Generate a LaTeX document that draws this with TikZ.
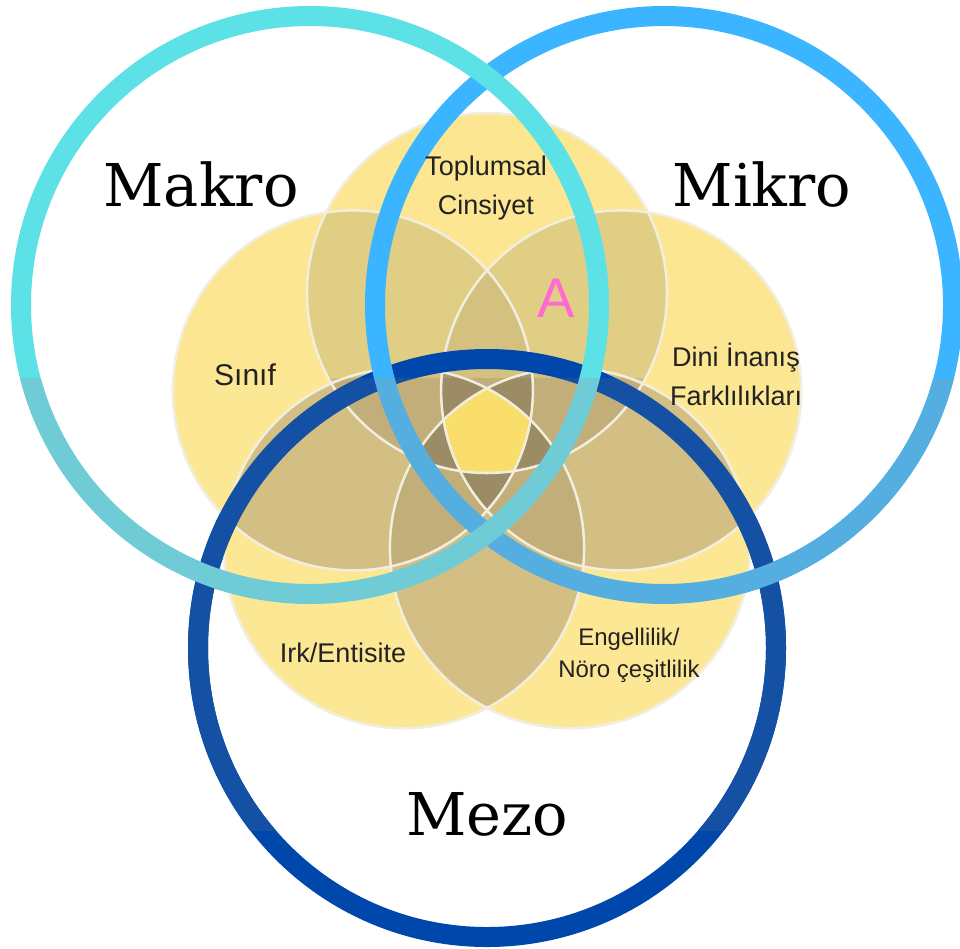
\documentclass[tikz,border=0pt]{standalone}
\usepackage{fontspec}
\setmainfont{DejaVu Serif}
\newfontfamily\labfont{Liberation Sans}
% outside band colours
\definecolor{oA}{HTML}{FCE691}
\definecolor{oB}{HTML}{E0CE85}
\definecolor{oC}{HTML}{D4C17F}
\definecolor{oD}{HTML}{A8976C}
\definecolor{oE}{HTML}{F9DE6C}
\definecolor{oMa}{HTML}{5CE1E6}
\definecolor{oMi}{HTML}{3BB5FF}
\definecolor{oMe}{HTML}{0047AB}
% band colours
\definecolor{bA}{HTML}{FCE794}
\definecolor{bB}{HTML}{D3BF84}
\definecolor{bC}{HTML}{C2AE78}
\definecolor{bD}{HTML}{9C8C66}
\definecolor{bE}{HTML}{F9DE6C}
\definecolor{bMa}{HTML}{6FCBD5}
\definecolor{bMi}{HTML}{55AEE0}
\definecolor{bMe}{HTML}{1450A3}
\definecolor{petalline}{HTML}{F2EEDF}
\definecolor{labtext}{HTML}{222222}
\definecolor{pinkA}{HTML}{FF6AD0}
\newcommand\petal[1]{(c#1) circle[radius=180pt]}
\newcommand\myscene[1]{%
  \foreach \pa in {T,S,D,I,E} {\fill[#1A] \petal{\pa};}
  \foreach \pa/\pb in {T/S,T/D,T/I,T/E,S/D,S/I,S/E,D/I,D/E,I/E}
    {\begin{scope}\clip \petal{\pa}; \fill[#1B] \petal{\pb};\end{scope}}
  \foreach \pa/\pb/\pc in {T/S/D,T/S/I,T/S/E,T/D/I,T/D/E,T/I/E,S/D/I,S/D/E,S/I/E,D/I/E}
    {\begin{scope}\clip \petal{\pa}; \clip \petal{\pb}; \fill[#1C] \petal{\pc};\end{scope}}
  \foreach \pa/\pb/\pc/\pd in {T/S/D/I,T/S/D/E,T/S/I/E,T/D/I/E,S/D/I/E}
    {\begin{scope}\clip \petal{\pa}; \clip \petal{\pb}; \clip \petal{\pc}; \fill[#1D] \petal{\pd};\end{scope}}
  \begin{scope}\clip \petal{T}; \clip \petal{S}; \clip \petal{D}; \clip \petal{I}; \fill[#1E] \petal{E};\end{scope}
  \foreach \pa in {T,S,D,I,E} {\draw[petalborder] \petal{\pa};}
  \draw[ring, draw=#1Me] (cMe) circle[radius=289pt];
  \draw[ring, draw=#1Mi] (cMi) circle[radius=289pt];
  \draw[ring, draw=#1Ma] (cMa) circle[radius=289pt];
}
\begin{document}
\begin{tikzpicture}[x=1pt,y=-1pt,
  petalborder/.style={draw=petalline, line width=2.5pt},
  ring/.style={line width=20pt},
  biglabel/.style={font=\fontsize{59}{70}\selectfont, text=black, anchor=base, inner sep=0pt},
  lab/.style={font=\labfont\fontsize{27}{39}\selectfont, text=labtext, align=center, anchor=base, inner sep=0pt}]
\useasboundingbox (0,0) rectangle (960,948);
\fill[white] (0,0) rectangle (960,948);
\coordinate (cT) at (487,293);
\coordinate (cS) at (352.9,390.4);
\coordinate (cD) at (621.1,390.4);
\coordinate (cI) at (404.1,548.1);
\coordinate (cE) at (569.9,548.1);
\coordinate (cMa) at (310,305);
\coordinate (cMi) at (664,305);
\coordinate (cMe) at (487,648);
\myscene{o}
\begin{scope}
  \clip (0,378) rectangle (960,830);
  \myscene{b}
\end{scope}
\node[biglabel] (makro) at (201,206) {Makro};
\node[biglabel] (mikro) at (762,206) {Mikro};
\node[biglabel] (mezo) at (487,835) {Mezo};
\node[lab] (toplumsal) at (486,214) {Toplumsal\\Cinsiyet};
\node[lab, font=\labfont\fontsize{30}{39}\selectfont] (sinif) at (245,385) {Sınıf};
\node[lab] (dini) at (736,405) {Dini İnanış\\Farklılıkları};
\node[lab] (irk) at (343,662) {Irk/Entisite};
\node[lab, font=\labfont\fontsize{24}{32}\selectfont] (engel) at (629,677) {Engellilik/\\Nöro çeşitlilik};
\node[font=\labfont\fontsize{56}{60}\selectfont, text=pinkA, anchor=base, inner sep=0pt] (a) at (556,317) {A};
\end{tikzpicture}
\end{document}
